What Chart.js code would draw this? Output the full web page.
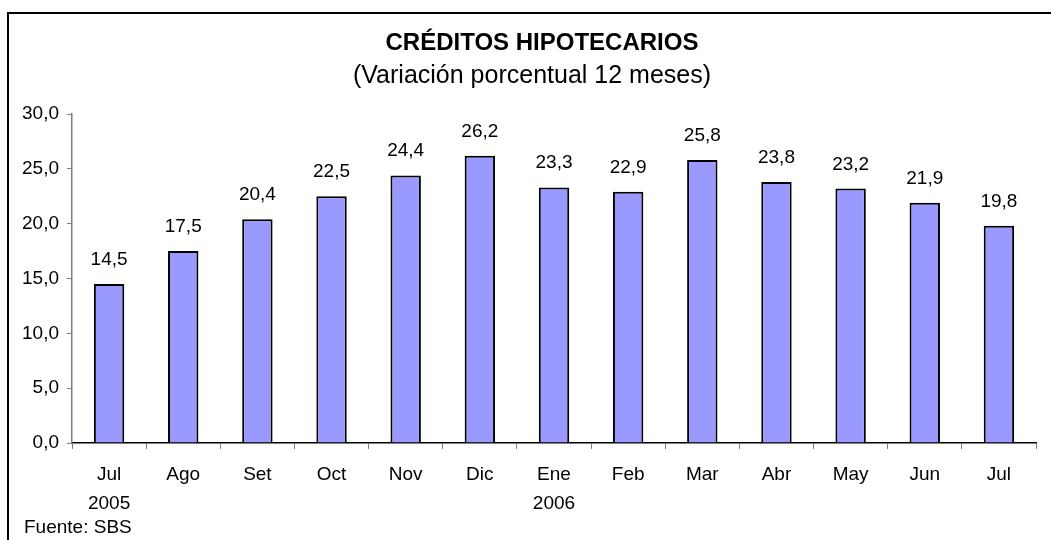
<!DOCTYPE html>
<html>
<head>
<meta charset="utf-8">
<script src="https://cdn.jsdelivr.net/npm/chart.js@4/dist/chart.umd.min.js"></script>
<style>
  html, body { margin: 0; padding: 0; background: #fff; }
  #wrap { width: 1051px; height: 540px; position: relative; }
</style>
</head>
<body>
<div id="wrap"><canvas id="myChart"></canvas></div>
<script>
// Chart data
const months = [['Jul', '2005'], 'Ago', 'Set', 'Oct', 'Nov', 'Dic', ['Ene', '2006'], 'Feb', 'Mar', 'Abr', 'May', 'Jun', 'Jul'];
const variacion = [14.5, 17.5, 20.4, 22.5, 24.4, 26.2, 23.3, 22.9, 25.8, 23.8, 23.2, 21.9, 19.8];
const yTicks = [0, 5, 10, 15, 20, 25, 30];

const titleText = 'CRÉDITOS HIPOTECARIOS';
const subtitleText = '(Variación porcentual 12 meses)';
const sourceText = 'Fuente: SBS';

const FONT = 'Arial, "Liberation Sans", sans-serif';

function fmt(v) {
  return v.toFixed(1).replace('.', ',');
}

// Frame, titles, source note and value labels
const decorPlugin = {
  id: 'decor',
  afterDraw(chart) {
    const ctx = chart.ctx;
    ctx.save();
    // outer frame (only top and left edges are visible)
    ctx.strokeStyle = '#000';
    ctx.lineWidth = 2;
    ctx.beginPath();
    ctx.moveTo(8, 540);
    ctx.lineTo(8, 13);
    ctx.lineTo(1051, 13);
    ctx.stroke();

    ctx.fillStyle = '#000';
    ctx.textAlign = 'center';
    ctx.textBaseline = 'middle';
    ctx.font = 'bold 24px ' + FONT;
    ctx.fillText(titleText, 542, 43);
    ctx.font = '25px ' + FONT;
    ctx.fillText(subtitleText, 532, 76);

    ctx.textAlign = 'left';
    ctx.font = '19px ' + FONT;
    ctx.fillText(sourceText, 24, 528);

    // value labels above bars
    const meta = chart.getDatasetMeta(0);
    ctx.textAlign = 'center';
    ctx.textBaseline = 'alphabetic';
    ctx.font = '19px ' + FONT;
    meta.data.forEach((bar, i) => {
      ctx.fillText(fmt(variacion[i]), bar.x, bar.y - 19);
    });
    ctx.restore();
  }
};

const ctx = document.getElementById('myChart').getContext('2d');
const myChart = new Chart(ctx, {
  type: 'bar',
  data: {
    labels: months,
    datasets: [{
      data: variacion,
      backgroundColor: '#9999FF',
      borderColor: '#000',
      borderWidth: 2,
      barPercentage: 0.41,
      categoryPercentage: 1.0
    }]
  },
  options: {
    responsive: true,
    maintainAspectRatio: false,
    animation: false,
    layout: { padding: { top: 114, right: 15, left: 0, bottom: 0 } },
    plugins: {
      legend: { display: false },
      title: { display: false },
      tooltip: { enabled: false }
    },
    scales: {
      x: {
        offset: true,
        grid: {
          offset: true,
          drawOnChartArea: false,
          drawTicks: true,
          tickLength: 6,
          color: '#808080'
        },
        border: { color: '#000', width: 1.5 },
        ticks: {
          color: '#000',
          font: { family: FONT, size: 19, lineHeight: 1.5 },
          padding: 12,
          maxRotation: 0,
          autoSkip: false
        },
        afterFit(scale) { scale.height = 97; }
      },
      y: {
        min: 0,
        max: 30,
        afterBuildTicks(scale) {
          scale.ticks = yTicks.map(v => ({ value: v }));
        },
        grid: {
          drawOnChartArea: false,
          drawTicks: true,
          tickLength: 5,
          color: '#808080'
        },
        border: { color: '#808080', width: 1.5 },
        ticks: {
          color: '#000',
          font: { family: FONT, size: 19 },
          padding: 8,
          callback: v => fmt(v)
        },
        afterFit(scale) { scale.width = 72; }
      }
    }
  },
  plugins: [decorPlugin]
});
</script>
</body>
</html>
